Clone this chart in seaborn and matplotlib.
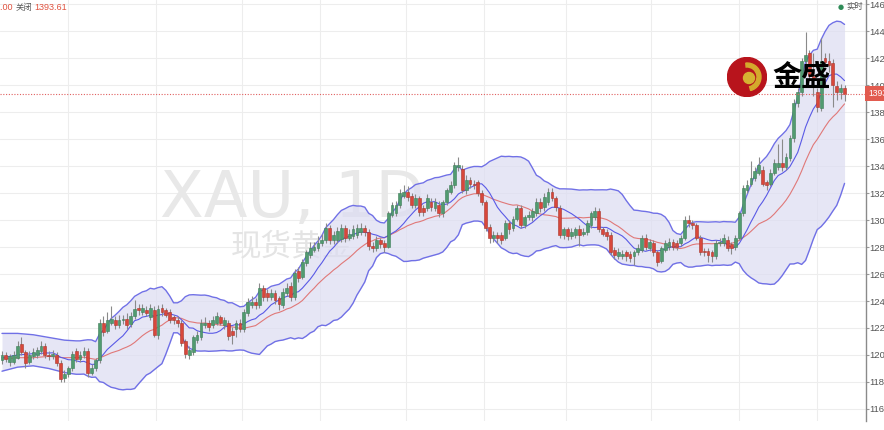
import numpy as np
import pandas as pd
import seaborn as sns
import matplotlib
matplotlib.use("Agg")
import matplotlib.pyplot as plt
from matplotlib.patches import Circle, Wedge

sns.set_style("white")
plt.rcParams['font.family'] = ['Liberation Sans', 'Noto Sans CJK SC', 'DejaVu Sans']

# daily XAU candles (oldest first)
opens = [
    1196, 1200, 1195, 1195, 1198, 1208, 1202, 1195, 1199, 1200,
    1203, 1207, 1200, 1199, 1200, 1194, 1183, 1186, 1190, 1203,
    1197, 1200, 1203, 1187, 1190, 1196, 1224, 1218, 1224, 1226,
    1222, 1226, 1227, 1223, 1229, 1235, 1232, 1233, 1228, 1233,
    1215, 1235, 1233, 1232, 1228, 1226, 1224, 1210, 1200, 1202,
    1211, 1213, 1222, 1224, 1222, 1224, 1228, 1222, 1224, 1218,
    1219, 1224, 1219, 1231, 1237, 1239, 1237, 1250, 1246, 1243,
    1246, 1242, 1237, 1246, 1251, 1243, 1262, 1258, 1268, 1274,
    1278, 1279, 1283, 1285, 1294, 1285, 1285, 1286, 1294, 1287,
    1288, 1289, 1291, 1294, 1291, 1281, 1279, 1285, 1283, 1280,
    1304, 1305, 1311, 1318, 1321, 1318, 1311, 1316, 1309, 1309,
    1313, 1309, 1311, 1305, 1313, 1321, 1326, 1339, 1338, 1322,
    1330, 1327, 1328, 1320, 1313, 1295, 1287, 1289, 1289, 1287,
    1298, 1294, 1301, 1309, 1296, 1302, 1302, 1305, 1313, 1310,
    1313, 1321, 1316, 1309, 1289, 1293, 1288, 1289, 1293, 1290,
    1291, 1296, 1302, 1307, 1293, 1291, 1289, 1278, 1273, 1273,
    1276, 1275, 1273, 1276, 1278, 1287, 1279, 1283, 1276, 1270,
    1278, 1280, 1284, 1283, 1283, 1287, 1300, 1298, 1296, 1287,
    1277, 1277, 1276, 1273, 1283, 1283, 1285, 1282, 1280, 1287,
    1305, 1322, 1327, 1331, 1335, 1337, 1328, 1327, 1335, 1339,
    1342, 1339, 1346, 1361, 1387, 1395, 1418, 1424, 1407, 1395,
    1383, 1420, 1418, 1416, 1399, 1395, 1398,
]
closes = [
    1200, 1197, 1199, 1200, 1207, 1202, 1194, 1200, 1202, 1204,
    1207, 1200, 1199, 1201, 1194, 1182, 1186, 1190, 1201, 1197,
    1200, 1203, 1187, 1190, 1196, 1224, 1217, 1226, 1227, 1222,
    1226, 1227, 1222, 1229, 1234, 1233, 1235, 1231, 1235, 1215,
    1234, 1232, 1230, 1226, 1226, 1224, 1209, 1201, 1204, 1213,
    1215, 1224, 1224, 1221, 1226, 1229, 1224, 1226, 1214, 1215,
    1224, 1219, 1232, 1239, 1239, 1237, 1250, 1243, 1243, 1246,
    1241, 1238, 1247, 1250, 1243, 1261, 1257, 1269, 1276, 1279,
    1280, 1283, 1285, 1294, 1285, 1289, 1292, 1294, 1287, 1290,
    1293, 1294, 1294, 1291, 1281, 1279, 1285, 1282, 1280, 1305,
    1311, 1311, 1320, 1321, 1317, 1311, 1316, 1306, 1306, 1316,
    1310, 1313, 1305, 1313, 1322, 1326, 1341, 1341, 1322, 1330,
    1327, 1326, 1320, 1313, 1294, 1287, 1289, 1287, 1285, 1298,
    1293, 1301, 1309, 1296, 1302, 1304, 1307, 1313, 1309, 1317,
    1321, 1316, 1310, 1289, 1293, 1288, 1291, 1293, 1289, 1291,
    1298, 1305, 1307, 1293, 1290, 1288, 1276, 1274, 1276, 1275,
    1273, 1272, 1276, 1279, 1287, 1280, 1284, 1276, 1269, 1279,
    1283, 1284, 1280, 1280, 1287, 1300, 1298, 1296, 1287, 1276,
    1276, 1274, 1273, 1283, 1284, 1287, 1279, 1279, 1287, 1305,
    1324, 1326, 1331, 1336, 1341, 1327, 1326, 1335, 1342, 1342,
    1339, 1347, 1361, 1387, 1395, 1418, 1422, 1407, 1405, 1384,
    1418, 1417, 1415, 1400, 1395, 1398, 1393.61,
]
highs = [
    1203, 1202, 1201, 1203, 1210, 1213, 1204, 1203, 1205, 1206,
    1210, 1209, 1203, 1204, 1202, 1196, 1189, 1192, 1203, 1205,
    1203, 1206, 1205, 1193, 1198, 1227, 1229, 1232, 1236, 1229,
    1230, 1230, 1231, 1232, 1241, 1238, 1238, 1236, 1238, 1236,
    1237, 1238, 1235, 1234, 1230, 1229, 1226, 1212, 1207, 1215,
    1218, 1227, 1228, 1226, 1229, 1232, 1230, 1228, 1226, 1221,
    1226, 1227, 1234, 1242, 1244, 1242, 1253, 1252, 1249, 1249,
    1248, 1244, 1250, 1253, 1254, 1264, 1265, 1271, 1278, 1284,
    1284, 1288, 1290, 1298, 1296, 1292, 1295, 1297, 1296, 1293,
    1296, 1297, 1298, 1296, 1293, 1284, 1288, 1287, 1285, 1307,
    1313, 1314, 1323, 1326, 1325, 1320, 1319, 1318, 1311, 1319,
    1316, 1316, 1314, 1315, 1324, 1329, 1343, 1347, 1341, 1333,
    1332, 1330, 1330, 1322, 1315, 1297, 1292, 1291, 1291, 1300,
    1300, 1303, 1311, 1311, 1304, 1307, 1309, 1316, 1316, 1320,
    1324, 1324, 1318, 1311, 1295, 1295, 1294, 1295, 1296, 1294,
    1300, 1307, 1310, 1309, 1295, 1293, 1291, 1280, 1279, 1278,
    1278, 1277, 1278, 1282, 1289, 1290, 1286, 1285, 1278, 1281,
    1285, 1287, 1286, 1285, 1289, 1303, 1304, 1300, 1298, 1289,
    1279, 1279, 1278, 1285, 1287, 1290, 1288, 1284, 1289, 1307,
    1326, 1330, 1344, 1339, 1347, 1340, 1330, 1338, 1345, 1356,
    1360, 1350, 1363, 1390, 1398, 1420, 1439, 1426, 1424, 1398,
    1435, 1424, 1424, 1419, 1403, 1401, 1400,
]
lows = [
    1193, 1195, 1192, 1193, 1197, 1200, 1190, 1193, 1197, 1198,
    1201, 1198, 1196, 1197, 1192, 1180, 1180, 1184, 1188, 1195,
    1195, 1198, 1184, 1185, 1188, 1194, 1214, 1216, 1222, 1219,
    1220, 1223, 1219, 1221, 1227, 1230, 1230, 1229, 1226, 1213,
    1212, 1229, 1228, 1224, 1223, 1221, 1207, 1198, 1197, 1200,
    1209, 1211, 1220, 1218, 1220, 1222, 1222, 1219, 1211, 1208,
    1213, 1217, 1217, 1229, 1235, 1234, 1235, 1240, 1240, 1241,
    1238, 1233, 1235, 1244, 1240, 1241, 1254, 1256, 1266, 1272,
    1276, 1277, 1281, 1283, 1282, 1282, 1283, 1284, 1284, 1285,
    1286, 1287, 1289, 1288, 1278, 1276, 1277, 1279, 1276, 1279,
    1302, 1303, 1309, 1316, 1314, 1309, 1309, 1303, 1303, 1307,
    1307, 1307, 1302, 1302, 1311, 1319, 1324, 1336, 1320, 1319,
    1324, 1323, 1318, 1311, 1292, 1283, 1284, 1283, 1282, 1285,
    1290, 1292, 1299, 1294, 1294, 1300, 1299, 1303, 1306, 1307,
    1311, 1314, 1307, 1287, 1286, 1285, 1286, 1287, 1281, 1288,
    1289, 1294, 1300, 1291, 1288, 1285, 1274, 1271, 1271, 1271,
    1270, 1269, 1267, 1274, 1276, 1278, 1277, 1273, 1266, 1268,
    1276, 1278, 1278, 1278, 1281, 1285, 1295, 1293, 1285, 1274,
    1273, 1269, 1269, 1271, 1281, 1281, 1277, 1275, 1278, 1285,
    1303, 1320, 1325, 1329, 1333, 1325, 1322, 1325, 1333, 1337,
    1336, 1337, 1344, 1358, 1384, 1392, 1413, 1402, 1392, 1380,
    1381, 1413, 1410, 1384, 1389, 1390, 1388,
]

# first trading day of each month (candle index), for the vertical grid
month_starts = [17, 39.5, 61.5, 81.5, 103.5, 123.5, 144.5, 166.5, 189, 209]

# band values before a full 20-day window exists
lead_idx = [0, 4, 8, 12, 16]
lead_upper = [1216, 1216, 1215, 1213, 1211]
lead_mid = [1197, 1198, 1198, 1199, 1198]
lead_lower = [1188, 1191, 1192, 1190, 1187]
lead_ma_idx = [0, 4, 8]
lead_ma10 = [1198, 1200, 1201]

df = pd.DataFrame({"open": opens, "high": highs, "low": lows, "close": closes})
df["i"] = np.arange(len(df))
n = len(df)

mid = df["close"].rolling(20).mean()
std = df["close"].rolling(20).std(ddof=0)
ma10 = df["close"].rolling(10).mean()

band_x = lead_idx + list(range(19, n))
upper = lead_upper + list((mid + 2 * std)[19:])
lower = lead_lower + list((mid - 2 * std)[19:])
middle = lead_mid + list(mid[19:])
ma_x = lead_ma_idx + list(range(9, n))
ma_y = lead_ma10 + list(ma10[9:])

fig = plt.figure(figsize=(8.84, 4.30), dpi=100)
ax = fig.add_axes([0, 9 / 430, 866 / 884, 421 / 430])

# watermark behind everything
ax.text(0.337, 0.485, "XAU, 1D", transform=ax.transAxes, ha="center", va="baseline",
        fontsize=46, color="#e8e8e8", family="DejaVu Sans", zorder=0.6)
ax.text(0.337, 0.413, "现货黄金", transform=ax.transAxes, ha="center", va="center",
        fontsize=22, color="#e4e4e4", family=["Noto Sans CJK SC", "DejaVu Sans"], zorder=0.6)

ax.fill_between(band_x, lower, upper, color="#dcdcf2", alpha=0.7, linewidth=0, zorder=1)
sns.lineplot(x=band_x, y=upper, ax=ax, color="#7070e6", linewidth=1.0, zorder=2)
sns.lineplot(x=band_x, y=lower, ax=ax, color="#7070e6", linewidth=1.0, zorder=2)
sns.lineplot(x=band_x, y=middle, ax=ax, color="#e07878", linewidth=0.8, zorder=2)
sns.lineplot(x=ma_x, y=ma_y, ax=ax, color="#5a5ae6", linewidth=0.8, zorder=2)

up = df["close"] >= df["open"]
body_col = np.where(up, "#519b70", "#d8473b")
edge_col = np.where(up, "#3d7d57", "#a9352b")
ax.vlines(df["i"], df["low"], df["high"], color="#8a8a8a", linewidth=0.8, zorder=3)
ax.bar(df["i"], (df["close"] - df["open"]).abs().clip(lower=0.6),
       bottom=np.minimum(df["open"], df["close"]), width=0.72,
       color=body_col, edgecolor=edge_col, linewidth=0.4, zorder=4)

last = closes[-1]
ax.axhline(last, color="#e06060", linewidth=0.8, linestyle=(0, (1, 1.5)), zorder=5)
ax.text(1.003, last, "%.2f" % last, transform=ax.get_yaxis_transform(), ha="left", va="center",
        color="white", fontsize=6.2, clip_on=False, zorder=6,
        bbox=dict(boxstyle="square,pad=0.38", fc="#e25b4f", ec="none"))

ax.set_xlim(-0.51, 221.5)
ax.set_ylim(1151.1, 1463)
ax.yaxis.tick_right()
ax.set_yticks(range(1160, 1461, 20))
ax.set_xticks(month_starts)
ax.tick_params(axis="x", length=0, labelbottom=False)
ax.tick_params(axis="y", length=2, color="#999999", labelsize=6.8, labelcolor="#555555", pad=0.6)
ax.set_xlabel("")
ax.set_ylabel("")
ax.grid(True, color="#ededed", linewidth=0.8)
ax.set_axisbelow(True)
for s in ["top", "left", "bottom"]:
    ax.spines[s].set_visible(False)
ax.spines["right"].set_color("#8a8a8a")
ax.spines["right"].set_linewidth(1.0)

# header strip
yh = 1 - 8 / 430
fig.text(13 / 884, yh, "1385.00", ha="right", va="center", fontsize=6.5, color="#e0523f")
fig.text(16 / 884, yh, "关闭", ha="left", va="center", fontsize=6, color="#555555")
fig.text(34 / 884, yh, "1393.61", ha="left", va="center", fontsize=6.5, color="#e0523f")
fig.text(841 / 884, 1 - 7 / 430, "●", ha="center", va="center", fontsize=5, color="#2e8b57",
         family="DejaVu Sans")
fig.text(846 / 884, 1 - 7 / 430, "实时", ha="left", va="center", fontsize=6, color="#555555")

# logo
lax = fig.add_axes([727 / 884, 1 - 97 / 430, 40 / 884, 40 / 430])
lax.set_xlim(0, 40)
lax.set_ylim(0, 40)
lax.axis("off")
lax.add_patch(Circle((20, 20), 19.5, color="#b8141c"))
lax.add_patch(Wedge((20, 20), 14, -75, 95, width=4, color="#d4aa2c"))
lax.add_patch(Circle((22, 19), 5.5, color="#d6b232"))
fig.text(802 / 884, 1 - 77 / 430, "金盛", ha="center", va="center", fontsize=21,
         fontweight="bold", color="black", family=["Noto Sans CJK SC", "DejaVu Sans"])

fig.savefig("out.png", dpi=100)
